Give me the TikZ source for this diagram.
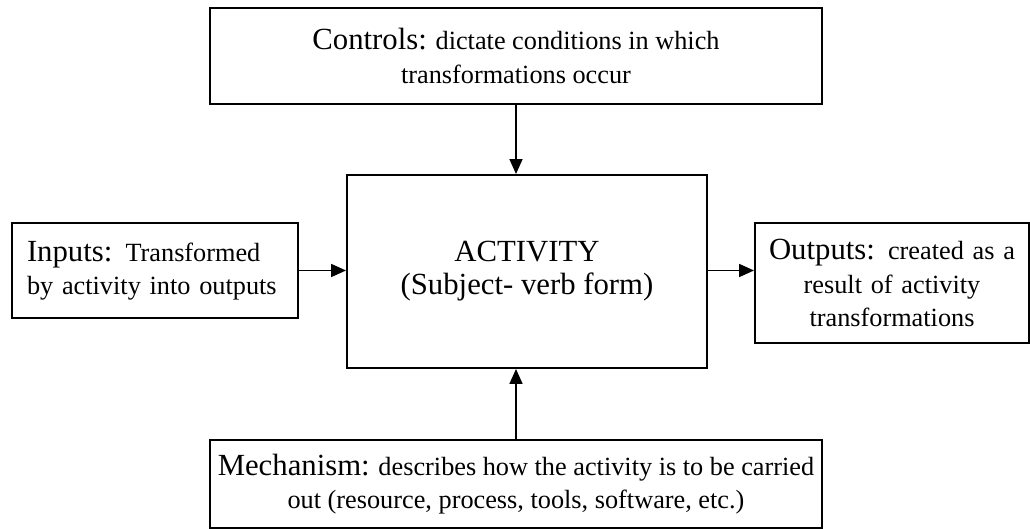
\documentclass[tikz,border=0pt]{standalone}
\usepackage{fontspec}
\setmainfont{Liberation Serif}
\usetikzlibrary{arrows.meta}
\newcommand{\bigf}{\fontsize{13.45}{14.5}\selectfont}
\newcommand{\smallf}{\fontsize{11.5}{14.5}\selectfont}
\tikzset{
  box/.style={draw=black, line width=0.85pt, rectangle, inner sep=0pt, font=\smallf},
  arr/.style={draw=black, line width=0.85pt, -{Triangle[length=6.5pt,width=5.6pt]}}
}
\begin{document}
\begin{tikzpicture}[x=0.4375pt,y=-0.4375pt]
\useasboundingbox (0,0) rectangle (1030,529);
% controls: x 210-822, y 8-104
\node[box, minimum width=267.75pt, minimum height=42pt, align=center] (controls) at (516,56)
  {{\bigf Controls:} dictate conditions in which\\transformations occur};
% activity: x 347-707, y 175-368
\node[box, minimum width=157.5pt, minimum height=84.44pt, align=center, font=\bigf] (activity) at (527,271.5)
  {ACTIVITY\\(Subject- verb form)};
% inputs: x 12-298, y 223-318
\node[box, minimum width=125.13pt, minimum height=41.56pt, text width=112pt, inner xsep=6.56pt, align=left] (inputs) at (155,270.5)
  {{\bigf Inputs:} Transformed\\by activity into outputs};
% outputs: x 755-1029, y 223-343
\node[box, minimum width=119.88pt, minimum height=52.5pt, text width=118pt, align=center] (outputs) at (892,283)
  {{\bigf Outputs:} created as a\\result of activity\\transformations};
% mechanism: x 210-822, y 440-528
\node[box, minimum width=267.75pt, minimum height=38.5pt, align=center] (mech) at (516,484)
  {{\bigf Mechanism:} describes how the activity is to be carried\\out (resource, process, tools, software, etc.)};
\draw[arr] (controls.south) -- (controls.south |- activity.north);
\draw[arr] (mech.north) -- (mech.north |- activity.south);
\draw[arr] (inputs.east) -- (inputs.east -| activity.west);
\draw[arr] (activity.east |- inputs.east) -- (outputs.west |- inputs.east);
\end{tikzpicture}
\end{document}
